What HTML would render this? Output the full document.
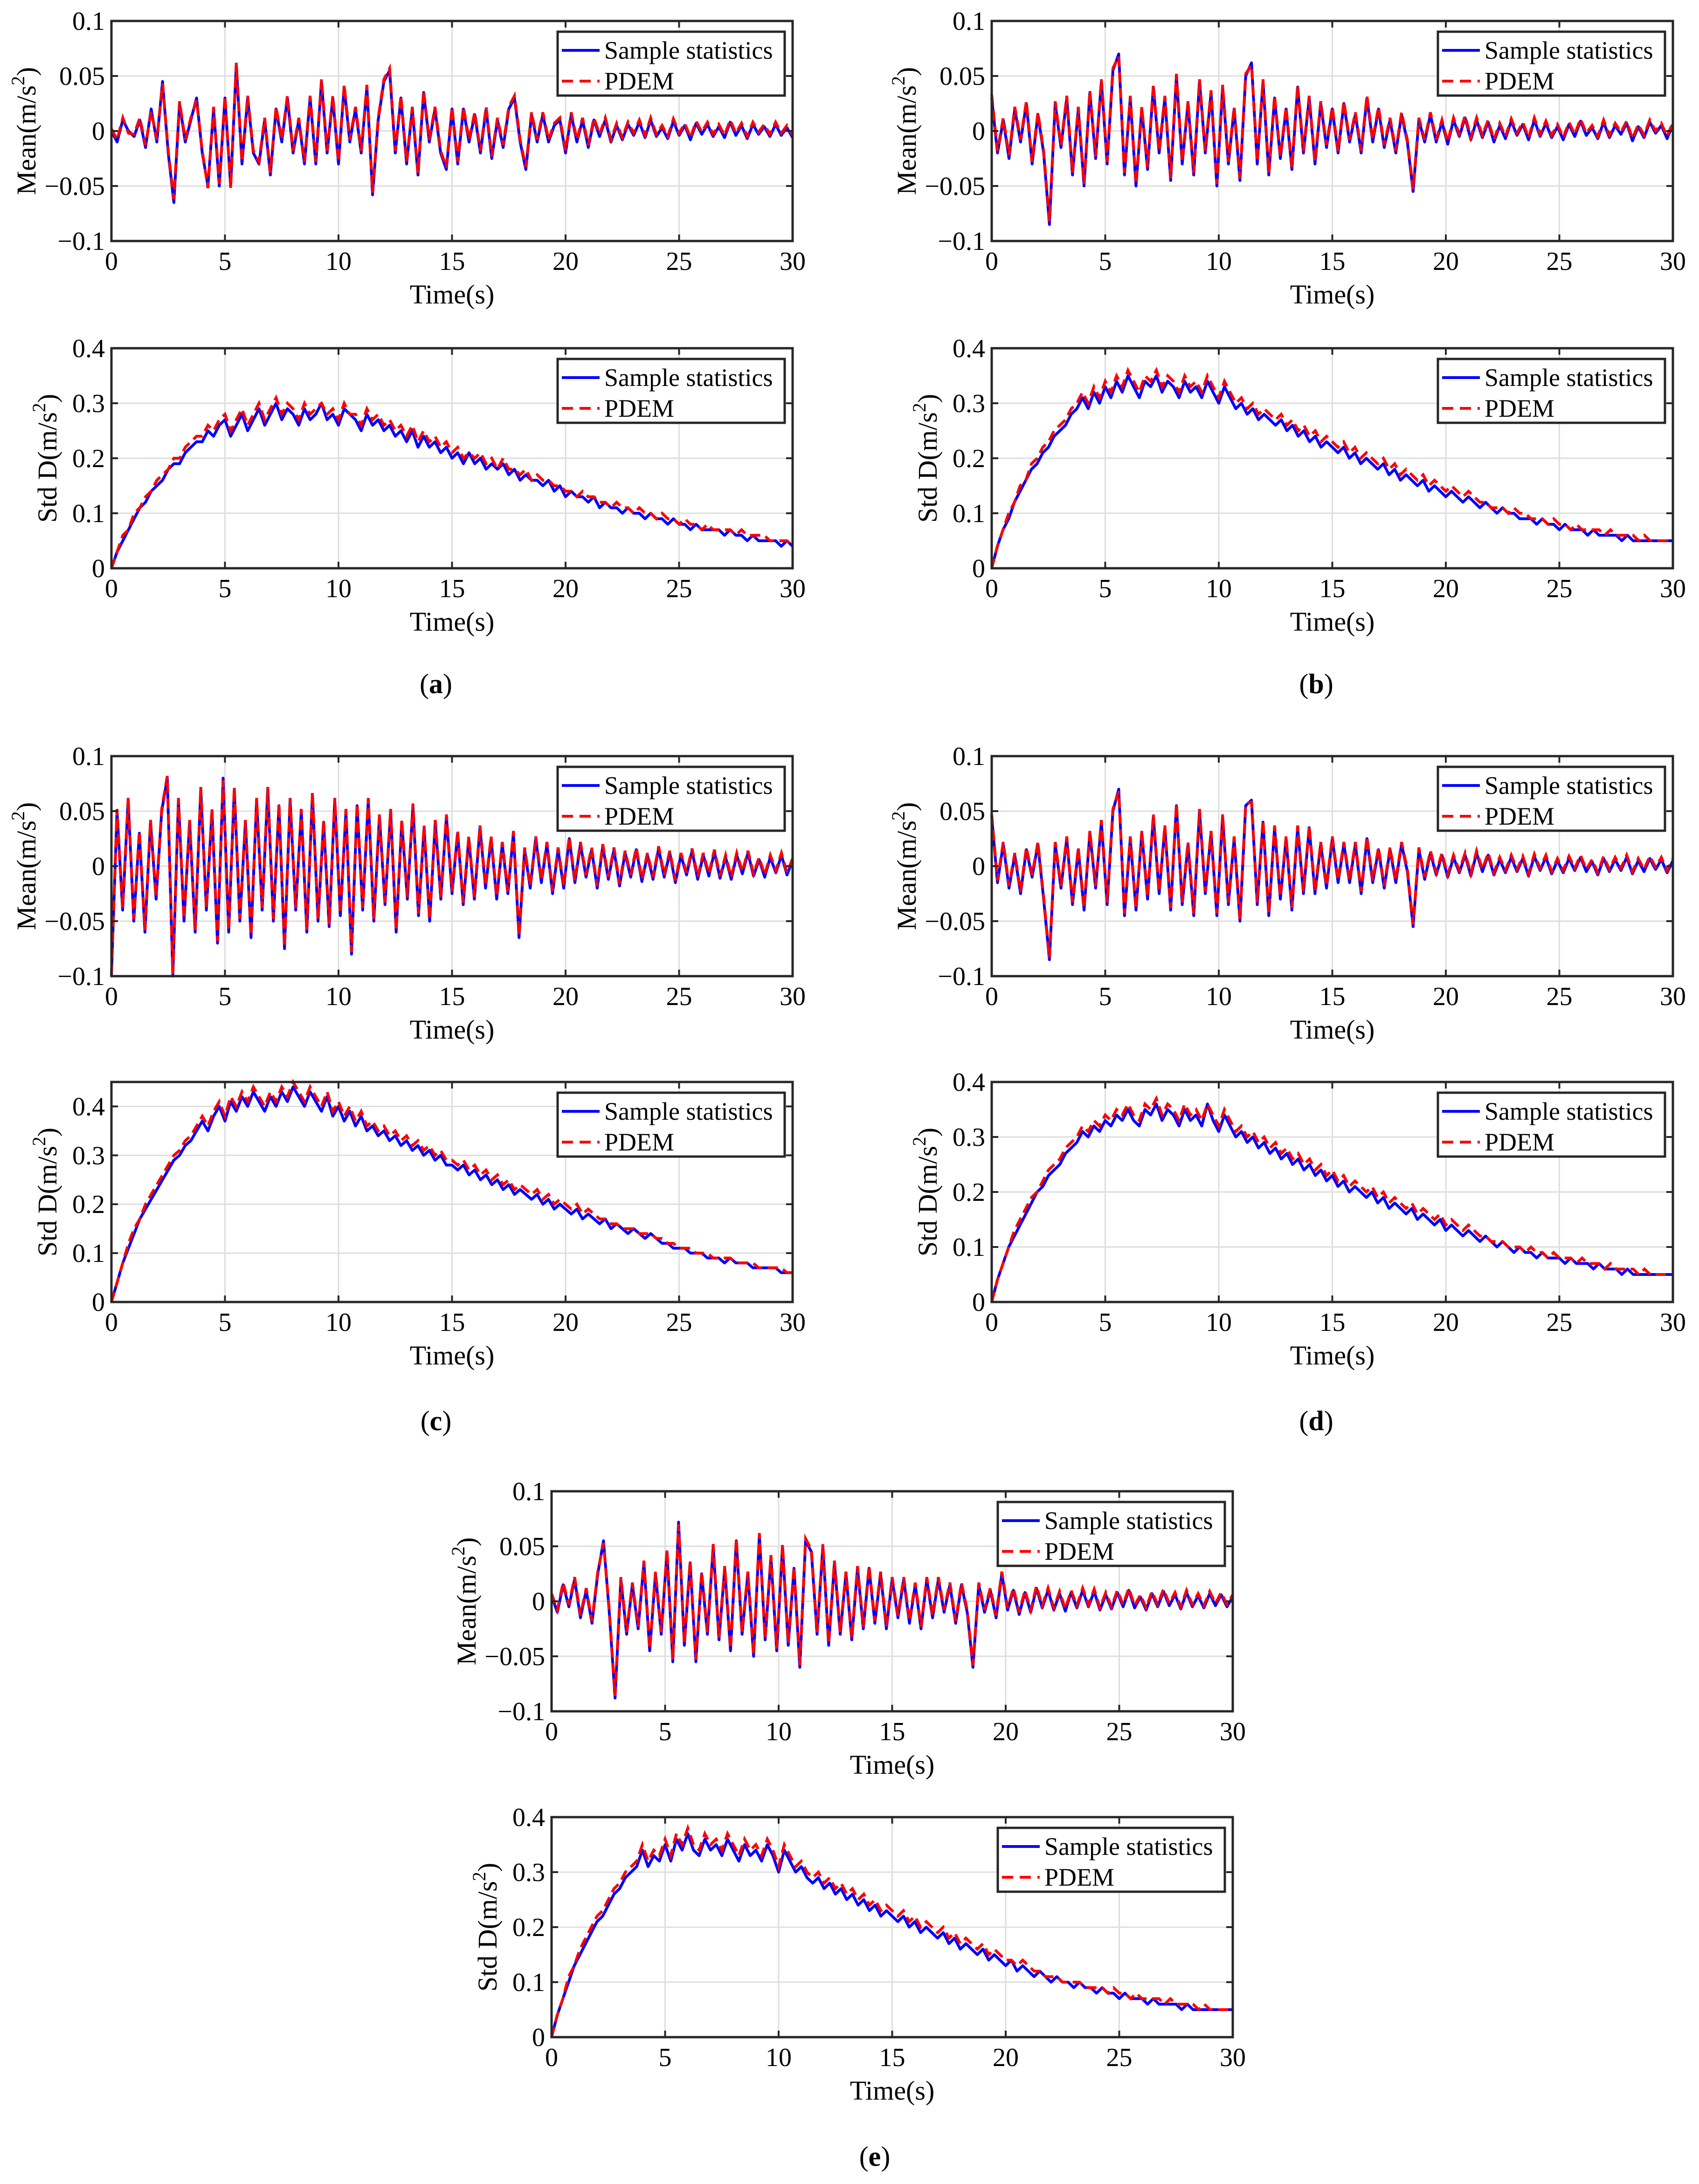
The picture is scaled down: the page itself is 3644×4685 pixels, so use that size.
<!DOCTYPE html>
<html><head><meta charset="utf-8"><style>
html,body{margin:0;padding:0;background:#fff}
svg{display:block}
text{font-family:"Liberation Serif","Times New Roman",serif;fill:#000}
</style></head><body>
<svg id="fig" width="3644" height="4685" viewBox="0 0 3644 4685" xmlns="http://www.w3.org/2000/svg"></svg>
<script>
// ===== data (mean in 1e-3 m/s^2, std in 1e-2 m/s^2), samples evenly spaced over 0..30 s =====
const timeTicks = [0,5,10,15,20,25,30];
const meanTicks = [-0.1,-0.05,0,0.05,0.1];
const meanTickLabels = ["\u22120.1","\u22120.05","0","0.05","0.1"];
const stdTicks = [0,0.1,0.2,0.3,0.4];
const stdTickLabels = ["0","0.1","0.2","0.3","0.4"];
const legendLabels = ["Sample statistics","PDEM"];

const meanA_sample = [0,-10,10,0,-5,10,-15,20,-10,45,-20,-65,25,-10,10,30,-20,-50,20,-50,30,-50,60,-30,30,-20,-30,10,-40,20,-10,30,-20,10,-30,30,-30,45,-20,30,-30,40,-10,20,-20,40,-58,10,45,55,-20,30,-30,20,-40,35,-10,20,-20,-35,20,-30,20,-10,15,-20,20,-25,10,-15,20,30,-10,-35,15,-10,15,-10,5,10,-20,15,-10,10,-15,10,-5,10,-10,5,-8,6,-4,8,-6,10,-5,3,-7,9,-4,5,-8,7,-3,6,-5,4,-6,8,-4,5,-7,6,-3,4,-5,6,-4,3,-6];
const meanA_pdem = [2,-8,12,-2,-3,12,-13,18,-8,43,-18,-62,27,-8,12,28,-18,-52,22,-48,32,-52,62,-28,32,-18,-28,12,-38,22,-8,32,-18,12,-28,32,-28,47,-18,32,-28,42,-8,22,-18,42,-56,12,47,57,-18,32,-28,22,-38,37,-8,22,-18,-33,22,-28,22,-8,17,-18,22,-23,12,-13,22,32,-8,-33,17,-8,17,-8,7,12,-18,17,-8,12,-13,12,-3,12,-8,7,-6,8,-2,10,-4,12,-3,5,-5,11,-2,7,-6,9,-1,8,-3,6,-4,10,-2,7,-5,8,-1,6,-3,8,-2,5,-4];
const meanB_sample = [30,-20,10,-25,20,-10,25,-30,15,-20,-85,25,-15,30,-40,20,-50,35,-25,45,-30,55,70,-40,30,-50,20,-35,40,-20,30,-45,50,-30,25,-40,45,-20,35,-50,40,-30,20,-45,50,62,-30,45,-40,30,-25,20,-35,40,-20,30,-30,25,-15,20,-20,25,-10,15,-20,30,-10,20,-15,10,-20,15,-10,-55,10,-10,15,-10,8,-12,10,-5,12,-8,10,-6,8,-10,5,-7,9,-4,6,-8,10,-5,7,-6,4,-8,6,-5,9,-4,3,-7,8,-6,5,-3,7,-9,4,-6,8,-2,5,-7,6];
const meanB_pdem = [33,-18,12,-22,22,-8,27,-28,17,-18,-82,27,-13,32,-38,22,-48,37,-23,47,-28,57,68,-38,32,-48,22,-33,42,-18,32,-43,52,-28,27,-38,47,-18,37,-48,42,-28,22,-43,52,60,-28,47,-38,32,-23,22,-33,42,-18,32,-28,27,-13,22,-18,27,-8,17,-18,32,-8,22,-13,12,-18,17,-8,-53,12,-8,17,-8,10,-10,12,-3,14,-6,12,-4,10,-8,7,-5,11,-2,8,-6,12,-3,9,-4,6,-6,8,-3,11,-2,5,-5,10,-4,7,-1,9,-7,6,-4,10,0,7,-5,8];
const meanC_sample = [-100,50,-40,60,-50,30,-60,40,-30,50,80,-100,60,-50,40,-60,70,-40,50,-70,80,-60,70,-50,40,-65,60,-40,70,-50,55,-75,60,-40,50,-60,65,-50,40,-55,60,-45,50,-80,55,-40,60,-50,45,-35,50,-60,40,-30,55,-45,35,-50,40,-30,45,-25,30,-35,25,-30,35,-20,25,-30,20,-25,30,-65,15,-20,25,-15,20,-25,15,-20,25,-15,20,-10,15,-20,18,-12,15,-18,12,-10,15,-14,10,-12,16,-10,12,-15,10,-8,14,-12,10,-9,13,-11,8,-12,10,-7,12,-9,6,-10,8,-6,10,-8,5];
const meanC_pdem = [-98,52,-38,62,-48,32,-58,42,-28,52,82,-98,62,-48,42,-58,72,-38,52,-68,78,-58,72,-48,42,-63,62,-38,72,-48,57,-73,62,-38,52,-58,67,-48,42,-53,62,-43,52,-78,57,-38,62,-48,47,-33,52,-58,42,-28,57,-43,37,-48,42,-28,47,-23,32,-33,27,-28,37,-18,27,-28,22,-23,32,-63,17,-18,27,-13,22,-23,17,-18,27,-13,22,-8,17,-18,20,-10,17,-16,14,-8,17,-12,12,-10,18,-8,14,-13,12,-6,16,-10,12,-7,15,-9,10,-10,12,-5,14,-7,8,-8,10,-4,12,-6,7];
const meanD_sample = [45,-15,20,-20,10,-25,15,-10,20,-30,-85,20,-20,25,-35,15,-40,30,-20,40,-35,50,70,-45,25,-40,30,-30,45,-25,35,-40,55,-35,20,-45,50,-25,30,-45,45,-35,25,-50,55,60,-35,40,-45,35,-30,25,-40,35,-25,35,-25,20,-20,25,-15,20,-15,20,-25,25,-15,15,-20,15,-15,20,-5,-55,15,-12,12,-8,10,-10,8,-6,10,-9,12,-5,10,-8,6,-6,8,-5,7,-9,9,-4,8,-7,5,-6,7,-4,8,-5,4,-8,7,-5,6,-4,8,-7,5,-5,7,-3,6,-6,5];
const meanD_pdem = [47,-13,22,-18,12,-23,17,-8,22,-28,-83,22,-18,27,-33,17,-38,32,-18,42,-33,52,68,-43,27,-38,32,-28,47,-23,37,-38,57,-33,22,-43,52,-23,32,-43,47,-33,27,-48,57,58,-33,42,-43,37,-28,27,-38,37,-23,37,-23,22,-18,27,-13,22,-13,22,-23,27,-13,17,-18,17,-13,22,-3,-53,17,-10,14,-6,12,-8,10,-4,12,-7,14,-3,12,-6,8,-4,10,-3,9,-7,11,-2,10,-5,7,-4,9,-2,10,-3,6,-6,9,-3,8,-2,10,-5,7,-3,9,-1,8,-4,7];
const meanE_sample = [5,-10,15,-5,20,-15,10,-20,25,55,-10,-88,20,-30,15,-25,35,-45,25,-30,45,-55,72,-40,35,-55,25,-30,50,-35,30,-45,55,-30,25,-50,60,-35,40,-45,50,-40,30,-60,55,45,-30,50,-40,35,-30,25,-35,30,-25,30,-20,25,-25,20,-15,20,-20,15,-25,20,-15,20,-10,15,-20,15,-10,-60,15,-10,10,-15,25,-8,10,-12,8,-10,12,-6,10,-8,7,-9,8,-6,10,-5,9,-8,6,-7,8,-5,10,-6,4,-8,7,-5,9,-4,6,-7,8,-5,5,-6,7,-4,6,-5,4];
const meanE_pdem = [7,-8,17,-3,22,-13,12,-18,27,53,-8,-86,22,-28,17,-23,37,-43,27,-28,47,-53,70,-38,37,-53,27,-28,52,-33,32,-43,57,-28,27,-48,62,-33,42,-43,52,-38,32,-58,57,47,-28,52,-38,37,-28,27,-33,32,-23,32,-18,27,-23,22,-13,22,-18,17,-23,22,-13,22,-8,17,-18,17,-8,-58,17,-8,12,-13,27,-6,12,-10,10,-8,14,-4,12,-6,9,-7,10,-4,12,-3,11,-6,8,-5,10,-3,12,-4,6,-6,9,-3,11,-2,8,-5,10,-3,7,-4,9,-2,8,-3,6];

const stdA_sample = [0,3,5,7,9,11,12,14,15,16,18,19,19,21,22,23,23,25,24,26,27,24,26,28,25,27,29,26,28,30,27,29,28,26,29,27,28,30,27,28,26,29,28,27,25,28,26,27,25,26,24,25,23,25,22,24,22,23,21,22,20,21,19,21,19,20,18,19,18,19,17,18,16,17,16,16,15,16,14,15,13,14,13,13,12,13,11,12,11,11,10,11,10,10,9,10,9,9,8,9,8,8,7,8,7,7,7,7,6,7,6,6,5,6,5,5,5,5,4,5,4];
const stdA_pdem = [0,3,6,7,10,11,13,14,16,17,18,20,20,22,23,24,24,26,25,27,28,25,27,29,26,28,30,27,29,31,28,30,29,27,30,28,29,30,28,29,27,30,28,28,26,29,27,28,26,27,25,26,24,26,23,25,23,24,22,23,21,22,20,21,20,21,19,20,18,20,18,18,17,18,16,17,16,16,15,15,14,14,13,14,13,13,12,12,11,12,11,11,10,11,10,10,9,10,9,9,8,9,8,8,7,8,7,7,7,7,6,7,6,6,6,6,5,5,5,5,4];
const stdB_sample = [0,4,7,9,12,14,16,18,19,21,22,24,25,26,28,29,31,29,32,30,33,31,34,32,35,33,31,34,33,35,32,34,33,31,34,32,33,31,34,32,30,33,31,29,30,28,29,27,28,27,26,27,25,26,24,25,23,24,22,23,22,21,22,20,21,19,20,19,18,19,17,18,16,17,16,15,16,14,15,14,13,14,13,12,13,12,11,12,11,10,11,10,10,9,9,9,8,9,8,8,7,8,7,7,7,6,7,6,6,6,6,5,6,5,5,5,5,5,5,5,5];
const stdB_pdem = [0,4,7,10,12,15,16,19,20,22,23,25,26,27,29,30,32,30,33,31,34,32,35,33,36,34,32,35,34,36,33,35,34,32,35,33,34,32,35,33,31,34,32,30,31,29,30,28,29,28,27,28,26,27,25,26,24,25,23,24,23,22,23,21,22,20,21,20,19,20,18,19,17,18,17,16,17,15,16,15,14,15,14,13,14,13,12,12,11,11,11,10,11,10,10,9,9,9,8,9,8,8,7,8,7,7,7,7,6,7,6,6,6,6,5,6,5,5,5,5,5];
const stdC_sample = [0,4,8,11,14,17,19,21,23,25,27,29,30,32,33,35,37,35,38,40,37,41,39,42,40,43,41,39,42,40,43,41,44,42,40,43,41,39,42,38,40,37,39,36,38,35,36,34,35,33,34,32,33,31,32,30,31,29,30,28,28,27,28,26,27,25,26,24,25,23,24,22,23,22,21,22,20,21,19,20,19,18,19,17,18,17,16,17,15,16,15,14,15,14,13,14,13,12,12,11,11,11,10,10,10,9,9,9,8,9,8,8,8,7,7,7,7,7,6,6,6];
const stdC_pdem = [0,4,8,12,15,17,20,22,24,26,28,30,31,33,34,36,38,36,39,41,38,42,40,43,41,44,42,40,43,41,44,42,45,43,41,44,42,40,43,39,41,38,40,37,39,36,37,35,36,34,35,33,34,32,33,31,32,30,31,29,29,28,29,27,28,26,27,25,26,24,25,23,24,23,22,23,21,22,20,21,20,19,20,18,19,18,17,17,16,16,15,15,15,14,14,14,13,13,12,12,11,11,11,10,10,10,9,9,9,9,8,8,8,8,7,7,7,7,7,6,6];
const stdD_sample = [0,4,7,10,12,14,16,18,20,21,23,24,25,27,28,29,31,30,32,31,33,32,34,33,35,33,32,35,34,36,33,35,34,32,35,33,34,32,36,33,31,34,32,30,31,29,30,28,29,27,28,26,27,25,26,24,25,23,24,22,23,21,22,20,21,20,19,20,18,19,17,18,17,16,17,15,16,15,14,15,13,14,13,12,13,12,11,12,11,10,11,10,9,10,9,9,8,9,8,8,8,7,8,7,7,7,6,7,6,6,6,5,6,5,5,5,5,5,5,5,5];
const stdD_pdem = [0,4,7,10,13,15,17,19,20,22,24,25,26,28,29,30,32,31,33,32,34,33,35,34,36,34,33,36,35,37,34,36,35,33,36,34,35,33,36,34,32,35,33,31,32,30,31,29,30,28,29,27,28,26,27,25,26,24,25,23,24,22,23,21,22,21,20,21,19,20,18,19,18,17,18,16,17,16,15,16,14,15,14,13,14,13,12,12,11,11,11,10,10,10,9,10,9,9,8,9,8,8,8,7,8,7,7,7,6,7,6,6,6,6,5,6,5,5,5,5,5];
const stdE_sample = [0,4,7,10,13,15,17,19,21,22,24,26,27,29,30,31,34,31,33,32,35,32,36,34,37,34,33,36,34,35,33,36,34,32,35,33,34,32,35,33,30,34,32,30,31,29,28,29,27,28,26,27,25,26,24,25,23,24,22,23,22,21,22,20,21,19,20,19,18,19,17,18,16,17,16,15,16,14,15,14,13,14,12,13,12,11,12,11,10,11,10,10,9,10,9,9,8,9,8,8,7,8,7,7,7,6,7,6,6,6,6,5,6,5,5,5,5,5,5,5,5];
const stdE_pdem = [0,4,7,11,13,16,18,20,22,23,25,27,28,30,31,32,35,32,34,33,36,33,37,35,38,35,34,37,35,36,34,37,35,33,36,34,35,33,36,34,31,35,33,31,32,30,29,30,28,29,27,28,26,27,25,26,24,25,23,24,23,22,23,21,22,20,21,20,19,20,18,19,17,18,17,16,17,15,16,15,14,14,13,14,13,12,12,11,11,11,10,10,10,10,9,9,9,9,8,9,8,8,7,8,7,7,7,7,6,7,6,6,6,6,5,6,5,5,5,5,5];

// ===== drawing =====
const NS = "http://www.w3.org/2000/svg";
const svg = document.getElementById("fig");
function mk(tag, attrs, parent) {
  const e = document.createElementNS(NS, tag);
  for (const k in attrs) e.setAttribute(k, attrs[k]);
  (parent || svg).appendChild(e);
  return e;
}
const AW = 1461, AH = 472;

function drawAxes(x0, y0, yMin, yMax, yTicks, yLabels, sample, pdem, kind, key) {
  const g = mk("g", {});
  
  
  const sx = t => x0 + (t - 0) / 30 * AW;
  const sy = v => y0 + AH - (v - yMin) / (yMax - yMin) * AH;
  mk("rect", {x:x0, y:y0, width:AW, height:AH, fill:"#fff"}, g);
  timeTicks.forEach(t => {
    if (t > 0 && t < 30) {
      const l = mk("line", {x1:sx(t), x2:sx(t), y1:y0, y2:y0+AH, stroke:"#dedede", "stroke-width":3}, g);
      
      
    }
  });
  yTicks.forEach(v => {
    if (sy(v) > y0 + 2 && sy(v) < y0 + AH - 2) {
      const l = mk("line", {x1:x0, x2:x0+AW, y1:sy(v), y2:sy(v), stroke:"#dedede", "stroke-width":3}, g);
      
      
    }
  });
  function path(arr, scale) {
    const n = arr.length;
    let d = "";
    arr.forEach((v, i) => {
      const t = i * 30 / (n - 1);
      let yy = Math.max(y0, Math.min(y0 + AH, sy(v * scale)));
      d += (i ? "L" : "M") + sx(t).toFixed(1) + " " + yy.toFixed(1);
    });
    return d;
  }
  const scale = kind === "mean" ? 0.001 : 0.01;
  const ps = mk("path", {d:path(sample, scale), fill:"none", stroke:"#0000ff", "stroke-width":6, "stroke-linejoin":"round"}, g);
  
  
  const pp = mk("path", {d:path(pdem, scale), fill:"none", stroke:"#ff0000", "stroke-width":6, "stroke-dasharray":"22 12"}, g);
  
  
  timeTicks.forEach((t, i) => {
    mk("line", {x1:sx(t), x2:sx(t), y1:y0+AH, y2:y0+AH-14, stroke:"#262626", "stroke-width":4}, g);
    mk("line", {x1:sx(t), x2:sx(t), y1:y0, y2:y0+14, stroke:"#262626", "stroke-width":4}, g);
    const tx = mk("text", {x:sx(t), y:y0+AH+62, "font-size":56, "text-anchor":"middle"}, g);
    tx.textContent = String(t);
    
    
  });
  yTicks.forEach((v, i) => {
    mk("line", {x1:x0, x2:x0+14, y1:sy(v), y2:sy(v), stroke:"#262626", "stroke-width":4}, g);
    mk("line", {x1:x0+AW, x2:x0+AW-14, y1:sy(v), y2:sy(v), stroke:"#262626", "stroke-width":4}, g);
    const tx = mk("text", {x:x0-14, y:sy(v)+19, "font-size":56, "text-anchor":"end"}, g);
    tx.textContent = yLabels[i];
    
    
  });
  const box = mk("rect", {x:x0, y:y0, width:AW, height:AH, fill:"none", stroke:"#262626", "stroke-width":5}, g);
  
  
  const xt = mk("text", {x:x0+AW/2, y:y0+AH+134, "font-size":58, "text-anchor":"middle"}, g);
  xt.textContent = "Time(s)";
  
  
  const ycx = kind === "mean" ? x0 - 163 : x0 - 118;
  const ycy = y0 + AH/2;
  const yt = mk("text", {x:ycx, y:ycy, "font-size":58, "text-anchor":"middle", transform:`rotate(-90 ${ycx} ${ycy})`}, g);
  
  
  yt.appendChild(document.createTextNode(kind === "mean" ? "Mean(m/s" : "Std D(m/s"));
  const sup = mk("tspan", {"font-size":40, dy:-24}, yt);
  sup.textContent = "2";
  const cl = mk("tspan", {dy:24}, yt);
  cl.textContent = ")";
  const lx = x0 + 957, ly = y0 + 23;
  const lg = mk("g", {}, g);
  
  
  mk("rect", {x:lx, y:ly, width:487, height:137, fill:"#fff", stroke:"#262626", "stroke-width":5}, lg);
  mk("line", {x1:lx+9, x2:lx+90, y1:ly+40, y2:ly+40, stroke:"#0000ff", "stroke-width":6}, lg);
  mk("line", {x1:lx+9, x2:lx+90, y1:ly+106, y2:ly+106, stroke:"#ff0000", "stroke-width":6, "stroke-dasharray":"24 14"}, lg);
  legendLabels.forEach((s, i) => {
    const t = mk("text", {x:lx+100, y:ly+58+i*66, "font-size":54}, lg);
    t.textContent = s;
    
    
  });
}

const panels = [
  {key:"a", x:239, mt:45, st:747, lx:935, ly:1487, m:[meanA_sample, meanA_pdem], s:[stdA_sample, stdA_pdem], smax:0.4},
  {key:"b", x:2127, mt:45, st:747, lx:2823, ly:1487, m:[meanB_sample, meanB_pdem], s:[stdB_sample, stdB_pdem], smax:0.4},
  {key:"c", x:239, mt:1622, st:2321, lx:935, ly:3068, m:[meanC_sample, meanC_pdem], s:[stdC_sample, stdC_pdem], smax:0.45},
  {key:"d", x:2127, mt:1622, st:2321, lx:2823, ly:3068, m:[meanD_sample, meanD_pdem], s:[stdD_sample, stdD_pdem], smax:0.4},
  {key:"e", x:1183, mt:3199, st:3898, lx:1876, ly:4646, m:[meanE_sample, meanE_pdem], s:[stdE_sample, stdE_pdem], smax:0.4}
];
panels.forEach(p => {
  drawAxes(p.x, p.mt, -0.1, 0.1, meanTicks, meanTickLabels, p.m[0], p.m[1], "mean", p.key);
  drawAxes(p.x, p.st, 0, p.smax, stdTicks, stdTickLabels, p.s[0], p.s[1], "std", p.key);
  const t = mk("text", {x:p.lx, y:p.ly, "font-size":60, "text-anchor":"middle"});
  
  
  t.appendChild(document.createTextNode("("));
  const b = mk("tspan", {"font-weight":"bold"}, t);
  b.textContent = p.key;
  t.appendChild(document.createTextNode(")"));
});
</script>
</body></html>
